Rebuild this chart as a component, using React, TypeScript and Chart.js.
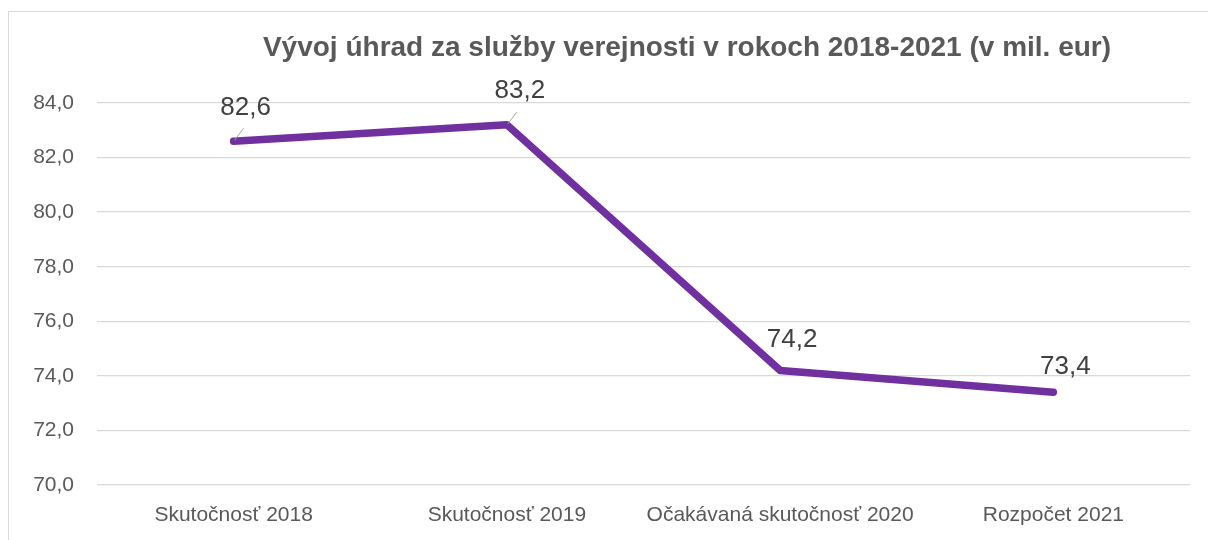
import React, { useEffect, useRef } from "react";
import { Chart, registerables } from "chart.js";

Chart.register(...registerables);

const titleText = "Vývoj úhrad za služby verejnosti v rokoch 2018-2021 (v mil. eur)";
const categories = [
  "Skutočnosť 2018",
  "Skutočnosť 2019",
  "Očakávaná skutočnosť 2020",
  "Rozpočet 2021",
];
const values = [82.6, 83.2, 74.2, 73.4];
const yMin = 70;
const yMax = 84;
const yStep = 2;

const FONT = "'Liberation Sans', Arial, sans-serif";
const labelOffsets = [
  [12, -33],
  [13, -34],
  [12, -31],
  [12, -25],
];
const leaderLines = [true, true, false, false];

const fmt = (v: number) => v.toFixed(1).replace(".", ",");

const dataLabelPlugin = {
  id: "dataLabels",
  afterDatasetsDraw(chart: any) {
    const ctx = chart.ctx;
    const meta = chart.getDatasetMeta(0);
    ctx.save();
    meta.data.forEach((pt: any, i: number) => {
      const [dx, dy] = labelOffsets[i];
      if (leaderLines[i]) {
        ctx.beginPath();
        ctx.strokeStyle = "#a6a6a6";
        ctx.lineWidth = 1;
        ctx.moveTo(pt.x + 1, pt.y - 1);
        ctx.lineTo(pt.x + 10, pt.y - 13);
        ctx.stroke();
      }
      ctx.fillStyle = "#404040";
      ctx.font = `26px ${FONT}`;
      ctx.textAlign = "center";
      ctx.textBaseline = "middle";
      ctx.fillText(fmt(values[i]), pt.x + dx, pt.y + dy);
    });
    ctx.restore();
  },
};

export default function App() {
  const ref = useRef<HTMLCanvasElement | null>(null);
  useEffect(() => {
    if (!ref.current) return;
    const chart = new Chart(ref.current, {
      type: "line",
      data: {
        labels: categories,
        datasets: [
          {
            data: values,
            borderColor: "#7030A0",
            backgroundColor: "#7030A0",
            borderWidth: 7.5,
            pointRadius: 0,
            pointHoverRadius: 0,
            tension: 0,
            borderCapStyle: "round",
            borderJoinStyle: "round",
          },
        ],
      },
      options: {
        responsive: false,
        animation: false,
        layout: { padding: 0 },
        plugins: {
          legend: { display: false },
          tooltip: { enabled: false },
          title: {
            display: true,
            text: titleText,
            color: "#595959",
            font: { family: FONT, size: 28, weight: "bold", lineHeight: 1.2 },
            padding: { top: 19.6, bottom: 37.8 },
          },
        },
        scales: {
          x: {
            offset: true,
            grid: { display: false, drawTicks: false },
            border: { display: false },
            ticks: {
              color: "#595959",
              font: { family: FONT, size: 21 },
              padding: 18,
              maxRotation: 0,
              autoSkip: false,
            },
            afterFit: (s: any) => {
              s.height = 67;
            },
          },
          y: {
            min: yMin,
            max: yMax,
            grid: { color: "#d9d9d9", lineWidth: 1.3, drawTicks: false },
            border: { display: false },
            ticks: {
              stepSize: yStep,
              color: "#595959",
              font: { family: FONT, size: 21 },
              padding: 23,
              callback: (v: any) => fmt(Number(v)),
            },
            afterFit: (s: any) => {
              s.width = 88;
            },
          },
          yRightSpace: {
            position: "right",
            display: true,
            min: yMin,
            max: yMax,
            grid: { display: false, drawTicks: false },
            border: { display: false },
            ticks: { display: false },
            afterFit: (s: any) => {
              s.width = 175;
            },
          },
        },
      },
      plugins: [dataLabelPlugin],
    });
    return () => chart.destroy();
  }, []);

  return (
    <div
      style={{
        position: "absolute",
        left: 0,
        top: 0,
        width: 1208,
        height: 540,
        overflow: "hidden",
        background: "#fff",
      }}
    >
      <div
        style={{
          position: "absolute",
          left: 8,
          top: 11,
          width: 1356,
          height: 560,
          border: "1px solid #d9d9d9",
          background: "#fff",
        }}
      >
        <canvas ref={ref} width={1356} height={540} style={{ display: "block" }} />
      </div>
    </div>
  );
}
